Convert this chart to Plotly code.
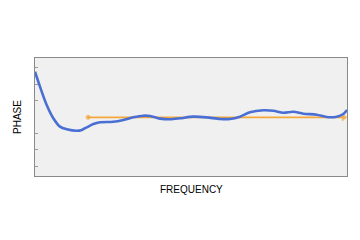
import plotly.graph_objects as go

# Data (frequency in arbitrary units 0..100, phase in arbitrary units)
freq = [0, 1.6, 3.75, 5.87, 8.0, 10.2, 13.4, 15.0, 16.6, 18.7, 20.8, 25.1, 28.3, 31.5,
        34.7, 36.9, 40.1, 43.3, 46.5, 50.7, 55.0, 59.3, 62.5, 65.7, 68.9, 73.2, 76.4,
        79.6, 82.8, 86.0, 90.3, 93.5, 96.7, 98.8, 100]
phase = [2.76, 1.85, 0.73, -0.08, -0.59, -0.75, -0.84, -0.79, -0.63, -0.43, -0.32, -0.29,
         -0.18, -0.02, 0.08, 0.06, -0.10, -0.14, -0.08, 0.02, -0.02, -0.12, -0.12, 0.02,
         0.29, 0.41, 0.38, 0.26, 0.32, 0.20, 0.14, 0.0, 0.02, 0.18, 0.43]

ref_freq = [17.0, 99.0]
ref_phase = [-0.02, -0.02]

ytick_vals = [-3, -2, -1, 1, 2, 3]

fig = go.Figure()
fig.add_trace(go.Scatter(
    x=ref_freq, y=ref_phase, mode="lines+markers",
    line=dict(color="#f4a83a", width=1.6),
    marker=dict(symbol=["circle", "triangle-right"], size=[4, 6], color="#f0a030"),
    hoverinfo="skip", showlegend=False))
fig.add_trace(go.Scatter(
    x=freq, y=phase, mode="lines", line=dict(color="#4a6fd4", width=2.6, shape="spline", smoothing=0.8),
    showlegend=False))

axis_common = dict(showline=True, linecolor="#8a8a8a", linewidth=1, mirror=True,
                   showgrid=False, zeroline=False, showticklabels=False)
fig.update_xaxes(range=[0, 100], ticks="", **axis_common)
fig.update_yaxes(range=[-3.6, 3.6], tickvals=ytick_vals, ticks="inside", ticklen=3,
                 tickcolor="#9a9a9a", tickwidth=1, **axis_common)

fig.update_layout(
    width=360, height=240,
    margin=dict(l=35, r=13, t=58, b=64),
    plot_bgcolor="#f0f0f0", paper_bgcolor="white",
    font=dict(family="Liberation Sans, Arial, sans-serif", color="black", size=10),
    annotations=[
        dict(text="PHASE", xref="paper", yref="paper", x=-0.0577, y=0.5, textangle=-90,
             showarrow=False, xanchor="center", yanchor="middle", font=dict(size=10)),
        dict(text="FREQUENCY", xref="paper", yref="paper", x=0.502, y=-0.1186,
             showarrow=False, xanchor="center", yanchor="middle", font=dict(size=10)),
    ],
)
fig.write_html("out.html")
